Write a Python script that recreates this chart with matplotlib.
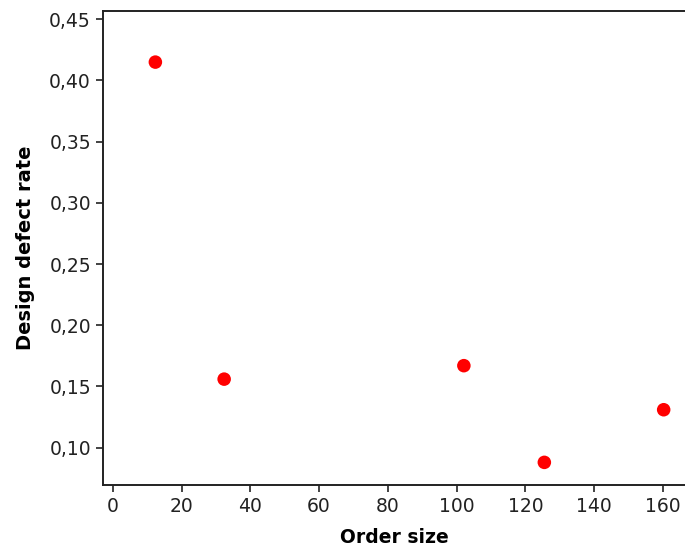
import matplotlib
matplotlib.use("Agg")
import matplotlib.pyplot as plt
from matplotlib.ticker import FuncFormatter

# data
order_size = [12.4, 32.4, 102.1, 125.5, 160.2]
defect_rate = [0.415, 0.156, 0.167, 0.088, 0.131]

x_ticks = [0, 20, 40, 60, 80, 100, 120, 140, 160]
y_ticks = [0.10, 0.15, 0.20, 0.25, 0.30, 0.35, 0.40, 0.45]

plt.rcParams['font.family'] = ['DejaVu Sans']

fig = plt.figure(figsize=(6.85, 5.46), dpi=100)
ax = fig.add_axes([0.15, 0.1117, 0.85, 0.8687])

ax.scatter(order_size, defect_rate, s=95, color='red', edgecolors='none', zorder=3)

ax.set_xlim(-2.9, 166.4)
ax.set_ylim(0.0695, 0.457)
ax.set_xticks(x_ticks)
ax.set_yticks(y_ticks)
ax.yaxis.set_major_formatter(FuncFormatter(lambda v, p: f"{v:.2f}".replace('.', ',')))

ax.tick_params(labelsize=13.5, length=5, width=1.2, color='#222222', labelcolor='#222222')
for s in ['left', 'bottom', 'top']:
    ax.spines[s].set_linewidth(1.4)
    ax.spines[s].set_color('#222222')
ax.spines['right'].set_visible(False)

ax.set_xlabel('Order size', fontsize=13.5, fontweight='bold', labelpad=9)
ax.set_ylabel('Design defect rate', fontsize=14, fontweight='bold', labelpad=10)

fig.savefig('out.png', dpi=100)
